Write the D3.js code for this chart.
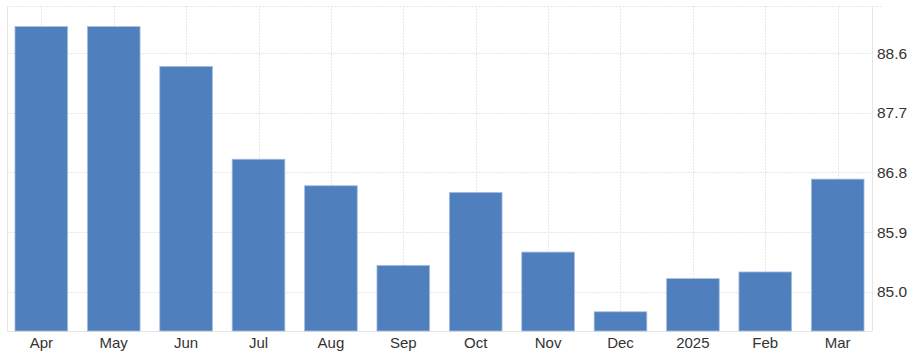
<!DOCTYPE html>
<html>
<head>
<meta charset="utf-8">
<script src="https://cdn.jsdelivr.net/npm/d3@7"></script>
<style>
  body { margin: 0; background: #fff; }
  svg { display: block; }
</style>
</head>
<body>
<div id="chart"></div>
<script>
const months = ["Apr", "May", "Jun", "Jul", "Aug", "Sep", "Oct", "Nov", "Dec", "2025", "Feb", "Mar"];
const values = [89.0, 89.0, 88.4, 87.0, 86.6, 85.4, 86.5, 85.6, 84.7, 85.2, 85.3, 86.7];
const yTicks = [85.0, 85.9, 86.8, 87.7, 88.6];

const width = 915, height = 359;
const margin = { top: 6, right: 43, bottom: 28, left: 7 };

const svg = d3.select("#chart")
  .append("svg")
  .attr("width", width)
  .attr("height", height);

const x = d3.scaleBand()
  .domain(months)
  .range([margin.left, width - margin.right])
  .paddingInner(0.272)
  .paddingOuter(0.11);

const y = d3.scaleLinear()
  .domain([84.41, 89.31])
  .range([height - margin.bottom, margin.top]);

const grid = svg.append("g")
  .attr("stroke", "#e8e8e8")
  .attr("stroke-dasharray", "1.5,1.5")
  .attr("shape-rendering", "crispEdges");

// vertical grid at category centres
grid.selectAll("line.v")
  .data(months)
  .join("line")
  .attr("class", "v")
  .attr("x1", (d) => Math.round(x(d) + x.bandwidth() / 2) + 0.5)
  .attr("x2", (d) => Math.round(x(d) + x.bandwidth() / 2) + 0.5)
  .attr("y1", margin.top)
  .attr("y2", height - margin.bottom);

// horizontal grid at ticks
grid.selectAll("line.h")
  .data(yTicks)
  .join("line")
  .attr("class", "h")
  .attr("x1", margin.left)
  .attr("x2", width - margin.right + 1)
  .attr("y1", (d) => Math.round(y(d)) + 0.5)
  .attr("y2", (d) => Math.round(y(d)) + 0.5);

// top line
grid.append("line")
  .attr("x1", margin.left)
  .attr("x2", width - margin.right + 10)
  .attr("y1", margin.top + 0.5)
  .attr("y2", margin.top + 0.5);

// frame lines (left, right)
const frame = svg.append("g")
  .attr("stroke", "#e6e6e6")
  .attr("shape-rendering", "crispEdges");
frame.append("line")
  .attr("x1", margin.left + 0.5).attr("x2", margin.left + 0.5)
  .attr("y1", margin.top).attr("y2", height - margin.bottom);
frame.append("line")
  .attr("x1", width - margin.right + 0.5).attr("x2", width - margin.right + 0.5)
  .attr("y1", margin.top).attr("y2", height - margin.bottom);

svg.append("g")
  .selectAll("rect")
  .data(values)
  .join("rect")
  .attr("x", (d, i) => x(months[i]))
  .attr("y", (d) => y(d))
  .attr("width", x.bandwidth())
  .attr("height", (d) => y.range()[0] - y(d))
  .attr("fill", "#4f7fbd")
  .attr("stroke", "#a9c0df")
  .attr("stroke-width", 0.8);

// bottom line
frame.append("line")
  .attr("x1", margin.left).attr("x2", width - margin.right)
  .attr("y1", height - margin.bottom + 0.5).attr("y2", height - margin.bottom + 0.5)
  .attr("stroke", "#e6e6e6");

// y labels on the right
svg.append("g")
  .attr("font-family", "Arial, 'Liberation Sans', sans-serif")
  .attr("font-size", 15.5)
  .attr("fill", "#333")
  .selectAll("text")
  .data(yTicks)
  .join("text")
  .attr("x", width - margin.right + 5)
  .attr("y", (d) => y(d))
  .attr("dy", "0.35em")
  .text((d) => d.toFixed(1));

// x labels
svg.append("g")
  .attr("font-family", "Arial, 'Liberation Sans', sans-serif")
  .attr("font-size", 15)
  .attr("fill", "#333")
  .attr("text-anchor", "middle")
  .selectAll("text")
  .data(months)
  .join("text")
  .attr("x", (d) => x(d) + x.bandwidth() / 2)
  .attr("y", height - margin.bottom + 12)
  .attr("dy", "0.35em")
  .text((d) => d);
</script>
</body>
</html>
